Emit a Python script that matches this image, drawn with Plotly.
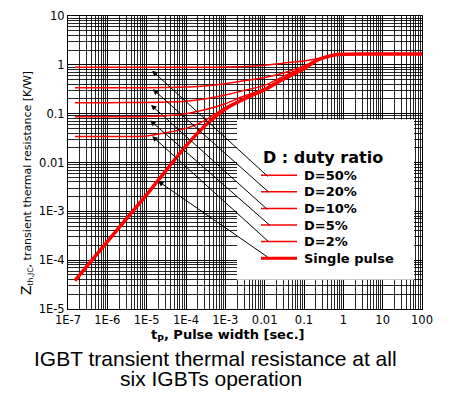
import plotly.graph_objects as go

# ---- data ----
tp = [1.5e-7, 1e-6, 1e-5, 1e-4, 3e-4, 1e-3, 3e-3, 1e-2, 3e-2, 0.1, 0.2, 0.5, 1, 10, 100]
z_single = [3.8e-5, 2.4e-4, 2.2e-3, 0.022, 0.056, 0.125, 0.2, 0.31, 0.51, 0.83, 1.2, 1.55, 1.65, 1.66, 1.66]
z_d50 = [0.89, 0.89, 0.89, 0.89, 0.895, 0.9, 0.92, 0.98, 1.08, 1.2, 1.32, 1.57, 1.65, 1.66, 1.66]
z_d20 = [0.34, 0.34, 0.34, 0.35, 0.37, 0.41, 0.47, 0.55, 0.68, 0.95, 1.24, 1.56, 1.65, 1.66, 1.66]
z_d10 = [0.168, 0.168, 0.17, 0.18, 0.2, 0.24, 0.3, 0.38, 0.58, 0.9, 1.22, 1.55, 1.65, 1.66, 1.66]
z_d5 = [0.086, 0.086, 0.087, 0.1, 0.12, 0.16, 0.23, 0.33, 0.53, 0.85, 1.2, 1.55, 1.65, 1.66, 1.66]
z_d2 = [0.034, 0.034, 0.035, 0.05, 0.072, 0.135, 0.205, 0.31, 0.51, 0.83, 1.2, 1.55, 1.65, 1.66, 1.66]

legend_labels = ["D=50%", "D=20%", "D=10%", "D=5%", "D=2%", "Single pulse"]
x_tickvals = [1e-7, 1e-6, 1e-5, 1e-4, 1e-3, 1e-2, 0.1, 1, 10, 100]
x_ticktext = ["1E-7", "1E-6", "1E-5", "1E-4", "1E-3", "0.01", "0.1", "1", "10", "100"]
y_tickvals = [1e-5, 1e-4, 1e-3, 1e-2, 0.1, 1, 10]
y_ticktext = ["1E-5", "1E-4", "1E-3", "0.01", "0.1", "1", "10"]

# arrow tips (log10 data coords) and tail offsets (pixels)
arrow_tip_logx = [-4.86, -4.84, -4.89, -4.91, -4.86, -4.71]
arrow_tip_logy = [-0.12, -0.50, -0.82, -1.14, -1.46, -2.38]
arrow_dx = [117, 117, 118, 121, 118, 111]
arrow_dy = [107, 104, 106, 106, 107, 77]

RED = "#ff0000"
TICKFONT = dict(family="DejaVu Sans", size=11.5, color="black")

fig = go.Figure()
series = [z_d50, z_d20, z_d10, z_d5, z_d2, z_single]
widths = [1.5, 1.5, 1.5, 1.5, 1.5, 3.5]
for vals, w, name in zip(series, widths, legend_labels):
    fig.add_trace(go.Scatter(x=tp, y=vals, mode="lines", name=name,
                             line=dict(color=RED, width=w, shape="spline", smoothing=0.6),
                             showlegend=False, hoverinfo="skip"))

grid_minor = dict(dtick="D1", showgrid=True, gridcolor="rgba(0,0,0,0.85)", gridwidth=1, ticks="")
fig.update_xaxes(type="log", range=[-7, 2], tickmode="array", tickvals=x_tickvals, ticktext=x_ticktext,
                 showgrid=True, gridcolor="black", gridwidth=1, minor=grid_minor,
                 showline=True, linecolor="black", linewidth=1, mirror=True, ticks="",
                 tickfont=TICKFONT, zeroline=False)
fig.update_yaxes(type="log", range=[-5, 1], tickmode="array", tickvals=y_tickvals, ticktext=y_ticktext,
                 showgrid=True, gridcolor="black", gridwidth=1, minor=grid_minor,
                 showline=True, linecolor="black", linewidth=1, mirror=True, ticks="",
                 tickfont=TICKFONT, zeroline=False)

L, R, T, B = 68, 30, 9, 88
W, H = 452, 397
PW, PH = W - L - R, H - T - B

def px(xp):
    return (xp - L) / PW

def py(yp):
    return 1 - (yp - T) / PH

shapes = []
# legend box
shapes.append(dict(type="rect", xref="paper", yref="paper", x0=px(237), x1=px(414), y0=py(279), y1=py(115),
                   fillcolor="white", line=dict(width=0), layer="above"))
entry_y = [172, 189, 206, 223, 240, 257]
for yy, w in zip(entry_y, widths):
    shapes.append(dict(type="line", xref="paper", yref="paper", x0=px(261), x1=px(297), y0=py(yy), y1=py(yy),
                       line=dict(color=RED, width=min(w, 3)), layer="above"))

annotations = []
annotations.append(dict(text="<b>D : duty ratio</b>", xref="paper", yref="paper", x=px(261), y=py(154),
                        xanchor="left", yanchor="middle", showarrow=False,
                        font=dict(family="DejaVu Sans", size=16, color="black")))
for yy, lab in zip(entry_y, legend_labels):
    annotations.append(dict(text="<b>%s</b>" % lab, xref="paper", yref="paper", x=px(302), y=py(yy),
                            xanchor="left", yanchor="middle", showarrow=False,
                            font=dict(family="DejaVu Sans", size=13, color="black")))
for lx, ly, dx, dy in zip(arrow_tip_logx, arrow_tip_logy, arrow_dx, arrow_dy):
    annotations.append(dict(text="", x=lx, y=ly, xref="x", yref="y", ax=dx, ay=dy,
                            showarrow=True, arrowhead=2, arrowsize=1.1, arrowwidth=1,
                            arrowcolor="black", standoff=0, startstandoff=0))
# axis titles
annotations.append(dict(text="<span style='font-size:14px'>Z</span><sub>th,JC</sub>, transient thermal resistance [K/W]",
                        xref="paper", yref="paper", x=px(26), y=py(180), textangle=-90,
                        xanchor="center", yanchor="middle", showarrow=False,
                        font=dict(family="DejaVu Sans", size=11, color="black")))
annotations.append(dict(text="<b>t<sub>P</sub>, Pulse width [sec.]</b>",
                        xref="paper", yref="paper", x=px(228), y=py(336),
                        xanchor="center", yanchor="middle", showarrow=False,
                        font=dict(family="DejaVu Sans", size=13, color="black")))
# caption
annotations.append(dict(text="IGBT transient thermal resistance at all",
                        xref="paper", yref="paper", x=px(215), y=py(360),
                        xanchor="center", yanchor="middle", showarrow=False,
                        font=dict(family="Liberation Sans", size=21, color="black")))
annotations.append(dict(text="six IGBTs operation",
                        xref="paper", yref="paper", x=px(211), y=py(380),
                        xanchor="center", yanchor="middle", showarrow=False,
                        font=dict(family="Liberation Sans", size=21, color="black")))

fig.update_layout(width=W, height=H, margin=dict(l=L, r=R, t=T, b=B),
                  paper_bgcolor="white", plot_bgcolor="white",
                  shapes=shapes, annotations=annotations, showlegend=False)

fig.write_html("out.html")
